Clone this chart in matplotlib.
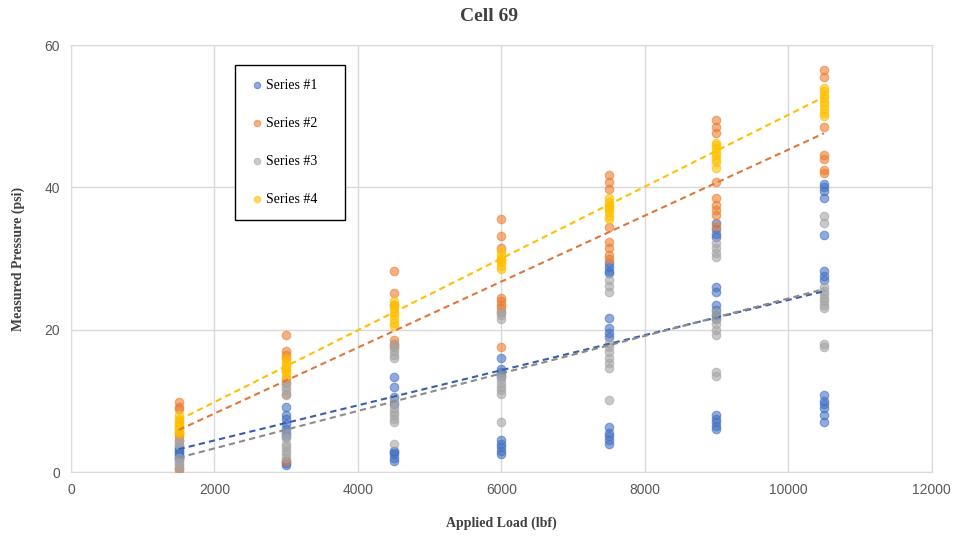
import numpy as np
import matplotlib
matplotlib.use("Agg")
import matplotlib.pyplot as plt

# applied load levels (lbf)
loads = [1500, 3000, 4500, 6000, 7500, 9000, 10500]

series1 = [
    [2.2, 2.5, 2.8, 3.0, 3.2, 3.5, 2.0, 1.8],
    [9.1, 8.0, 7.5, 6.8, 6.0, 5.5, 1.2, 1.0, 1.5, 5.0],
    [13.3, 12.0, 10.5, 9.5, 3.0, 2.5, 2.0, 1.6, 2.8],
    [16.0, 14.5, 14.0, 13.5, 4.5, 4.0, 3.5, 3.0, 2.5],
    [29.3, 28.8, 28.3, 28.0, 21.6, 20.2, 19.5, 19.0, 6.3, 5.5, 5.0, 4.5, 4.0],
    [35.0, 34.2, 33.5, 33.0, 26.0, 25.3, 23.5, 22.8, 22.0, 21.5, 8.0, 7.5, 7.0, 6.5, 6.0],
    [40.5, 40.0, 39.5, 38.5, 33.3, 28.2, 27.5, 27.0, 10.8, 10.0, 9.5, 9.0, 8.0, 7.0],
]
series2 = [
    [9.8, 9.2, 8.8, 5.5, 5.0, 4.5, 0.3, 0.6],
    [19.2, 17.0, 16.5, 16.0, 12.5, 11.0, 1.5, 13.0],
    [28.3, 25.2, 23.5, 18.5, 18.0, 17.5],
    [35.5, 33.2, 31.5, 24.5, 24.0, 23.5, 23.0, 22.5, 17.5],
    [41.8, 40.8, 39.8, 34.4, 32.3, 31.5, 30.5, 30.0],
    [49.4, 48.5, 47.6, 40.7, 38.5, 37.5, 36.8, 36.1, 34.5],
    [56.5, 55.5, 48.5, 44.5, 44.0, 42.5, 42.0],
]
series3 = [
    [0.5, 1.0, 1.5, 2.0, 3.8, 4.0, 4.3, 1.2],
    [12.5, 12.0, 11.5, 10.8, 5.5, 4.8, 4.0, 3.5, 3.0, 2.5, 2.0],
    [18.0, 17.5, 17.0, 16.5, 16.0, 10.0, 9.0, 8.5, 8.0, 7.5, 7.0, 4.0],
    [22.5, 22.0, 21.5, 13.5, 13.0, 12.5, 12.0, 11.5, 11.0, 7.0],
    [27.0, 26.2, 25.3, 18.1, 17.5, 16.8, 16.0, 15.3, 14.6, 10.1],
    [32.2, 31.5, 30.8, 30.2, 22.5, 21.5, 20.8, 20.0, 19.2, 14.0, 13.5],
    [36.0, 35.0, 26.0, 25.5, 25.0, 24.5, 24.0, 23.5, 23.0, 18.0, 17.5],
]
series4 = [
    [5.5, 6.0, 6.5, 7.0, 7.5, 8.0, 6.2, 6.8, 7.2, 5.8],
    [13.5, 14.0, 14.5, 15.0, 15.5, 16.0, 14.2, 14.8],
    [20.5, 21.0, 21.5, 22.0, 22.5, 23.0, 23.5, 24.0],
    [28.5, 29.0, 29.5, 30.0, 30.5, 31.0, 29.8],
    [35.5, 36.0, 36.5, 37.0, 37.5, 38.0, 38.5, 37.2],
    [42.7, 43.5, 44.0, 44.5, 45.0, 45.5, 46.0, 46.3],
    [50.0, 50.5, 51.0, 51.5, 52.0, 52.5, 53.0, 53.5, 54.0],
]

# linear trendline values at first / last load
trend_start = [3.2, 5.9, 2.0, 7.3]
trend_end = [25.4, 47.6, 25.7, 52.7]

names = ["Series #1", "Series #2", "Series #3", "Series #4"]
colors = ["#4472C4", "#ED7D31", "#A5A5A5", "#FFC000"]
trend_colors = ["#3A5FA8", "#E0773A", "#8C8C8C", "#FFC000"]

fig = plt.figure(figsize=(9.55, 5.39), dpi=100)
ax = fig.add_axes([0.0743, 0.1243, 0.9012, 0.7922])

all_series = [series1, series2, series3, series4]
for i, data in enumerate(all_series):
    xs = np.concatenate([[x] * len(v) for x, v in zip(loads, data)])
    ys = np.concatenate(data)
    ax.scatter(xs, ys, s=38, color=colors[i], alpha=0.6, edgecolors=colors[i],
               linewidths=0.8, label=names[i], zorder=3)
    ax.plot([loads[0], loads[-1]], [trend_start[i], trend_end[i]], color=trend_colors[i],
            lw=1.5, ls=(0, (3, 2)), zorder=4)

ax.set_xlim(0, 12000)
ax.set_ylim(0, 60)
ax.set_xticks(range(0, 12001, 2000))
ax.set_yticks(range(0, 61, 20))
ax.grid(True, color="#D9D9D9", lw=1)
ax.set_axisbelow(True)
for s in ax.spines.values():
    s.set_color("#D9D9D9")
ax.tick_params(length=0, labelsize=10, labelcolor="#595959", pad=8)
for lab in ax.get_xticklabels() + ax.get_yticklabels():
    lab.set_fontfamily("Liberation Sans")

serif = "Liberation Serif"
fig.text(0.512, 0.985, "Cell 69", ha="center", va="top", fontsize=14,
         fontweight="bold", family=serif, color="#404040")
ax.set_xlabel("Applied Load (lbf)", fontsize=10, fontweight="bold", family=serif,
              color="#404040", labelpad=14)
ax.set_ylabel("Measured Pressure (psi)", fontsize=10, fontweight="bold", family=serif,
              color="#404040", labelpad=14)

# trailing spaces widen the box like the original legend
leg = ax.legend([h for h in ax.collections], [n + "    " for n in names],
                loc="upper left", bbox_to_anchor=(0.1907, 0.953), borderaxespad=0,
                fancybox=False, edgecolor="black", framealpha=1, labelspacing=1.8,
                handletextpad=0.0, handlelength=1.2, borderpad=1.0,
                prop={"family": serif, "size": 10}, markerscale=0.75)
leg.get_frame().set_linewidth(1.0)

fig.savefig("out.png", dpi=100)
